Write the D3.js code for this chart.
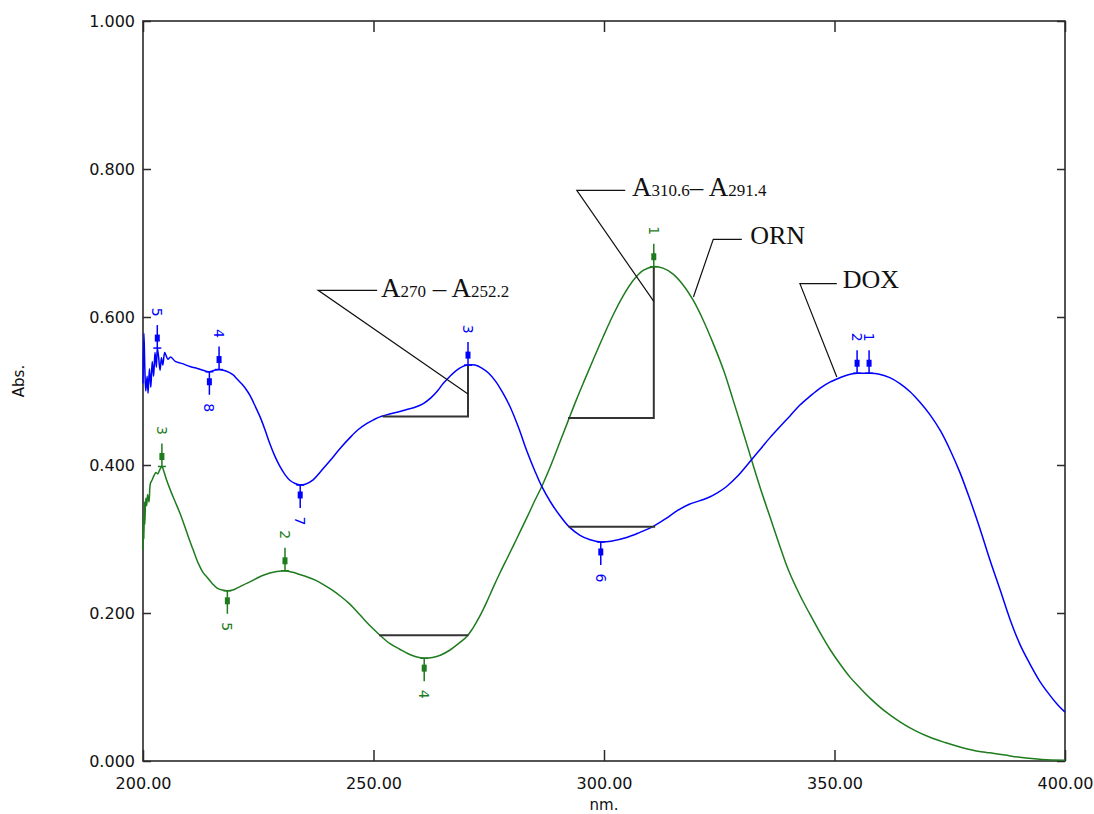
<!DOCTYPE html>
<html><head><meta charset="utf-8">
<script src="https://cdn.jsdelivr.net/npm/d3@7"></script>
<style>body{margin:0;background:#fff}</style>
</head><body><svg id="c" width="1094" height="814"></svg>
<script>
// ---------------- DATA ----------------
const doxNm = [200.0,200.2,200.4,200.6,200.9,201.1,201.4,201.7,202.0,202.3,202.6,202.9,203.1,203.4,203.7,204.0,204.3,204.7,205.0,205.4,206.0,207.0,208.0,209.0,210.2,211.5,212.5,213.5,214.4,215.5,216.5,218.0,219.5,220.3,221.5,222.5,223.2,224.3,225.4,226.5,227.5,228.6,229.7,230.8,231.9,233.0,234.1,235.2,236.9,238.5,240.6,242.7,244.9,246.7,248.5,250.0,251.4,253.5,255.5,257.2,259.0,260.8,262.5,264.0,265.1,266.6,268.0,269.3,270.5,272.0,273.5,275.0,276.5,278.0,279.6,281.5,283.2,285.0,286.5,288.5,290.5,292.5,294.8,297.0,299.3,301.5,304.9,307.8,310.7,313.5,315.8,318.5,322.3,324.5,326.6,329.0,332.0,334.0,336.0,338.2,340.3,342.5,344.7,346.9,349.0,351.2,353.0,354.9,356.2,357.5,359.5,362.0,364.2,366.4,368.5,370.7,373.0,375.1,377.2,379.4,381.5,383.7,386.0,388.1,390.2,392.4,394.5,396.7,398.4,400.0];
const doxAbs = [0.510,0.578,0.530,0.500,0.520,0.497,0.530,0.505,0.540,0.520,0.552,0.532,0.558,0.545,0.528,0.545,0.535,0.552,0.548,0.543,0.546,0.540,0.538,0.536,0.533,0.531,0.529,0.527,0.526,0.528,0.529,0.527,0.522,0.517,0.509,0.501,0.494,0.480,0.465,0.447,0.429,0.412,0.398,0.387,0.379,0.375,0.373,0.374,0.380,0.391,0.406,0.422,0.437,0.448,0.456,0.461,0.465,0.469,0.472,0.475,0.478,0.483,0.491,0.501,0.510,0.520,0.528,0.533,0.535,0.535,0.531,0.524,0.513,0.498,0.479,0.450,0.420,0.392,0.371,0.349,0.331,0.316,0.305,0.299,0.296,0.297,0.302,0.309,0.317,0.328,0.338,0.347,0.355,0.362,0.371,0.385,0.407,0.422,0.437,0.452,0.466,0.481,0.493,0.504,0.512,0.518,0.522,0.524,0.524,0.524,0.523,0.518,0.510,0.499,0.485,0.468,0.446,0.420,0.390,0.353,0.315,0.272,0.230,0.191,0.158,0.131,0.108,0.089,0.076,0.066];

const ornNm = [200.0,200.1,200.2,200.3,200.4,200.6,200.8,201.0,201.3,201.6,202.0,202.4,202.8,203.2,203.6,204.1,204.5,205.1,206.0,207.0,208.0,209.0,210.0,210.9,212.0,213.0,213.8,215.0,216.0,217.2,218.3,219.5,220.5,221.8,223.5,225.0,226.1,227.5,229.0,230.8,232.5,234.0,235.5,237.5,239.5,241.3,243.0,244.7,246.4,248.0,249.7,251.4,253.5,255.7,257.5,259.2,261.0,262.8,264.5,266.6,268.5,270.2,271.5,273.0,274.5,276.0,277.5,279.0,280.5,281.8,283.5,285.0,286.5,288.5,290.5,292.3,294.0,295.8,297.7,299.8,302.0,304.0,306.4,308.5,310.7,312.8,315.0,317.2,319.4,321.5,323.7,326.0,328.0,330.0,332.0,334.0,336.0,338.0,340.0,342.5,344.7,347.0,349.0,351.2,353.4,355.5,357.7,361.0,364.2,367.5,370.7,374.0,377.2,380.5,383.7,387.0,390.2,395.0,400.0];
const ornAbs = [0.285,0.330,0.300,0.350,0.320,0.355,0.345,0.360,0.350,0.375,0.380,0.386,0.390,0.388,0.393,0.398,0.392,0.380,0.365,0.350,0.335,0.318,0.300,0.285,0.267,0.255,0.249,0.240,0.234,0.231,0.230,0.231,0.234,0.238,0.243,0.248,0.251,0.254,0.256,0.257,0.255,0.252,0.249,0.244,0.237,0.230,0.222,0.213,0.202,0.191,0.180,0.170,0.159,0.151,0.145,0.141,0.139,0.140,0.143,0.150,0.159,0.168,0.179,0.195,0.214,0.235,0.255,0.274,0.293,0.310,0.332,0.352,0.371,0.400,0.432,0.461,0.488,0.515,0.543,0.573,0.603,0.627,0.650,0.663,0.668,0.666,0.658,0.643,0.622,0.596,0.564,0.527,0.488,0.448,0.407,0.367,0.330,0.293,0.258,0.224,0.198,0.172,0.151,0.131,0.113,0.099,0.085,0.067,0.053,0.041,0.032,0.025,0.019,0.014,0.011,0.008,0.005,0.002,0.001];

// peak / valley picks (label, wavelength, kind)
const doxPeaks = [["5",203.1,"p"],["4",216.5,"p"],["8",214.4,"v"],["7",234.1,"v"],["3",270.5,"p"],["6",299.3,"v"],["2",354.9,"p"],["1",357.5,"p"]];
const ornPeaks = [["3",204.1,"p"],["5",218.3,"v"],["2",230.8,"p"],["4",261.0,"v"],["1",310.8,"p"]];

const xTicks = [200,250,300,350,400];
const yTicks = [0,0.2,0.4,0.6,0.8,1.0];
const xLabel = "nm.";
const yLabel = "Abs.";

// annotation geometry in data units
const bracketA = [[252.0,0.4655],[270.5,0.4655],[270.5,0.535]];
const bracketB = [[292.2,0.4635],[310.8,0.4635],[310.8,0.668]];
const baseGreen = [[251.2,0.170],[270.6,0.170]];
const baseBlue = [[292.3,0.3166],[311.1,0.3166]];
const callA = [[270.5,0.496],[238.0,0.636],[250.8,0.636]];
const callB = [[310.8,0.621],[294.1,0.771],[304.6,0.771]];
const callORN = [[319.4,0.627],[323.7,0.705],[329.9,0.705]];
const callDOX = [[350.5,0.519],[342.5,0.645],[350.5,0.645]];
const textA = {at:[251.6,0.627], parts:[["A",27],["270",17],[" \u2013 ",27],["A",27],["252.2",17]]};
const textB = {at:[306.1,0.7635], parts:[["A",27],["310.6",17],["\u2013 ",27],["A",27],["291.4",17]]};
const textORN = {at:[331.7,0.699], parts:[["ORN",26]]};
const textDOX = {at:[351.8,0.639], parts:[["DOX",26]]};

// ---------------- DRAW ----------------
const W=1094,H=814, L=143,R=1065,T=21,B=761;
const svg = d3.select("#c");
svg.append("rect").attr("width",W).attr("height",H).attr("fill","#fff");
const x = d3.scaleLinear().domain([200,400]).range([L,R]);
const y = d3.scaleLinear().domain([0,1]).range([B,T]);
const BLUE="#0000ff", GREEN="#1e7b1e", AX="#2a2a2a";

// axes
const gx = svg.append("g").attr("transform",`translate(0,${B})`)
  .call(d3.axisBottom(x).tickValues(xTicks).tickFormat(d3.format(".2f")).tickSizeInner(-11).tickSizeOuter(0).tickPadding(17));
const gxt = svg.append("g").attr("transform",`translate(0,${T})`)
  .call(d3.axisTop(x).tickValues(xTicks).tickFormat("").tickSizeInner(-11).tickSizeOuter(0));
const gy = svg.append("g").attr("transform",`translate(${L},0)`)
  .call(d3.axisLeft(y).tickValues(yTicks).tickFormat(d3.format(".3f")).tickSizeInner(-8).tickSizeOuter(0).tickPadding(8));
const gyr = svg.append("g").attr("transform",`translate(${R},0)`)
  .call(d3.axisRight(y).tickValues(yTicks).tickFormat("").tickSizeInner(-8).tickSizeOuter(0));
[gx,gxt,gy,gyr].forEach(g=>{
  g.select(".domain").remove();
  g.selectAll("line").attr("stroke",AX).attr("stroke-width",1.5);
  g.selectAll("text").attr("font-family","DejaVu Sans, sans-serif").attr("font-size",16).attr("fill","#111");
});
svg.append("rect").attr("x",L).attr("y",T).attr("width",R-L).attr("height",B-T)
  .attr("fill","none").attr("stroke",AX).attr("stroke-width",1.6);

svg.append("text").attr("x",(L+R)/2).attr("y",810).attr("text-anchor","middle")
  .attr("font-family","DejaVu Sans, sans-serif").attr("font-size",15).attr("fill","#111").text(xLabel);
svg.append("text").attr("transform",`translate(24,381) rotate(-90)`).attr("text-anchor","middle")
  .attr("font-family","DejaVu Sans, sans-serif").attr("font-size",15).attr("fill","#111").text(yLabel);

// curves
const line = d3.line().x(d=>x(d[0])).y(d=>y(d[1])).curve(d3.curveCatmullRom.alpha(0.5));
const dox = doxNm.map((v,i)=>[v,doxAbs[i]]);
const orn = ornNm.map((v,i)=>[v,ornAbs[i]]);
const plot = svg.append("g");
plot.append("path").attr("d",line(orn)).attr("fill","none").attr("stroke",GREEN).attr("stroke-width",1.5);
plot.append("path").attr("d",line(dox)).attr("fill","none").attr("stroke",BLUE).attr("stroke-width",1.5);

// annotations
const pl = d3.line().x(d=>x(d[0])).y(d=>y(d[1]));
[bracketA,bracketB,baseGreen,baseBlue].forEach(p=>
  svg.append("path").attr("d",pl(p)).attr("fill","none").attr("stroke","#333").attr("stroke-width",2));
[callA,callB,callORN,callDOX].forEach(p=>
  svg.append("path").attr("d",pl(p)).attr("fill","none").attr("stroke","#111").attr("stroke-width",1.2));
[textA,textB,textORN,textDOX].forEach(t=>{
  const tx = svg.append("text").attr("x",x(t.at[0])).attr("y",y(t.at[1]))
    .attr("font-family","Liberation Serif, Times New Roman, serif").attr("fill","#111");
  t.parts.forEach(p=>tx.append("tspan").attr("font-size",p[1]).style("white-space","pre").text(p[0]));
});

// peak markers
function interp(data, nm){
  const i = d3.bisector(d=>d[0]).left(data, nm);
  if(i<=0) return data[0][1];
  if(i>=data.length) return data[data.length-1][1];
  const a=data[i-1], b=data[i];
  return a[1]+(b[1]-a[1])*(nm-a[0])/(b[0]-a[0]);
}
function markers(data, peaks, col){
  peaks.forEach(([lab,nm,kind])=>{
    const px=x(nm), py=y(interp(data,nm)), s = kind==="p"?-1:1;
    const g = svg.append("g");
    g.append("line").attr("x1",px-4).attr("x2",px+4).attr("y1",py).attr("y2",py).attr("stroke",col).attr("stroke-width",1.5);
    g.append("line").attr("x1",px).attr("x2",px).attr("y1",py).attr("y2",py+s*23).attr("stroke",col).attr("stroke-width",1.5);
    g.append("rect").attr("x",px-2.5).attr("y",py+s*10-3.5).attr("width",5).attr("height",7).attr("fill",col);
    g.append("text").attr("transform",`translate(${px},${py+s*36}) rotate(90)`)
      .attr("text-anchor","middle").attr("dominant-baseline","central")
      .attr("font-family","DejaVu Sans, sans-serif").attr("font-size",14).attr("fill",col).text(lab);
  });
}
markers(dox, doxPeaks, BLUE);
markers(orn, ornPeaks, GREEN);
</script></body></html>
